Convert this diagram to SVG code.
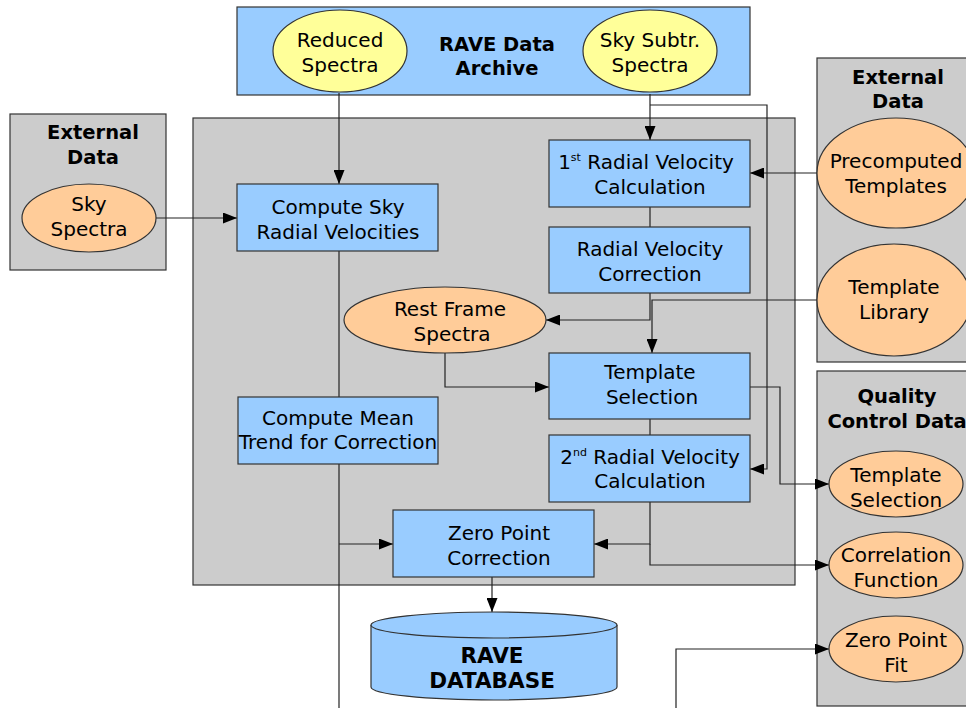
<svg xmlns="http://www.w3.org/2000/svg" width="966" height="708" viewBox="0 0 966 708">
<defs>
<marker id="arr" markerWidth="14" markerHeight="11" refX="14" refY="5.5" orient="auto" markerUnits="userSpaceOnUse">
<path d="M0,0 L14,5.5 L0,11 Z" fill="#000"/>
</marker>
<style>
.grp{fill:#cccccc;stroke:#333;stroke-width:1.2}
.box{fill:#99ccff;stroke:#333;stroke-width:1.2}
.org{fill:#ffcc99;stroke:#333;stroke-width:1.2}
.yel{fill:#ffff99;stroke:#333;stroke-width:1.2}
.t{font-family:"DejaVu Sans","Liberation Sans",sans-serif;font-size:20px;fill:#000;text-anchor:middle}
.b{font-family:"DejaVu Sans","Liberation Sans",sans-serif;font-size:19.5px;font-weight:bold;fill:#000;text-anchor:middle}
.db{font-size:21.5px}
.sup{font-size:11px}
.c{fill:none;stroke:#222;stroke-width:1.2}
.a{marker-end:url(#arr)}
</style>
</defs>
<rect width="966" height="708" fill="#fff"/>

<!-- containers -->
<g id="archive">
<rect class="box" x="237" y="7" width="513" height="88"/>
<text class="b" x="497" y="51">RAVE Data</text>
<text class="b" x="497" y="75">Archive</text>
</g>
<g id="processing">
<rect class="grp" x="193" y="118" width="602" height="467"/>
</g>
<g id="extLeft">
<rect class="grp" x="10" y="114" width="156" height="156"/>
<text class="b" x="93" y="139">External</text>
<text class="b" x="93" y="164">Data</text>
</g>
<g id="extRight">
<rect class="grp" x="817" y="58" width="160" height="304"/>
<text class="b" x="898" y="84">External</text>
<text class="b" x="898" y="108">Data</text>
</g>
<g id="qc">
<rect class="grp" x="817" y="371" width="160" height="335"/>
<text class="b" x="897" y="403">Quality</text>
<text class="b" x="897" y="428">Control Data</text>
</g>

<!-- connectors -->
<g id="connectors">
<path class="c a" d="M339,93 V184"/>
<path class="c a" d="M156,218 H237"/>
<path class="c a" d="M650,94 V140"/>
<path class="c a" d="M650,105 H767 V469 H750"/>
<path class="c a" d="M817,173 H750"/>
<path class="c" d="M650,207 V227"/>
<path class="c a" d="M650,293 V320 H546"/>
<path class="c a" d="M817,300 H652 V353"/>
<path class="c a" d="M445,353 V387 H549"/>
<path class="c" d="M650,419 V435"/>
<path class="c a" d="M750,387 H780 V484 H829"/>
<path class="c a" d="M650,502 V544 H594"/>
<path class="c a" d="M650,544 V565 H829"/>
<path class="c" d="M339,251 V397"/>
<path class="c" d="M339,464 V708"/>
<path class="c a" d="M339,544 H393"/>
<path class="c a" d="M676,708 V649 H829"/>
<path class="c a" d="M492,577 V612"/>
</g>

<!-- nodes -->
<g id="reduced">
<ellipse class="yel" cx="340" cy="51" rx="67" ry="41"/>
<text class="t" x="340" y="47">Reduced</text>
<text class="t" x="340" y="72">Spectra</text>
</g>
<g id="skysubtr">
<ellipse class="yel" cx="650" cy="51" rx="67" ry="41"/>
<text class="t" x="650" y="47">Sky Subtr.</text>
<text class="t" x="650" y="72">Spectra</text>
</g>
<g id="skyspectra">
<ellipse class="org" cx="89" cy="218" rx="67" ry="34"/>
<text class="t" x="89" y="211">Sky</text>
<text class="t" x="89" y="236">Spectra</text>
</g>
<g id="precomputed">
<ellipse class="org" cx="896" cy="173" rx="79" ry="55"/>
<text class="t" x="896" y="168">Precomputed</text>
<text class="t" x="896" y="193">Templates</text>
</g>
<g id="library">
<ellipse class="org" cx="894" cy="300" rx="77" ry="56"/>
<text class="t" x="894" y="294">Template</text>
<text class="t" x="894" y="319">Library</text>
</g>
<g id="computeSky">
<rect class="box" x="237" y="184" width="201" height="67"/>
<text class="t" x="338" y="214">Compute Sky</text>
<text class="t" x="338" y="239">Radial Velocities</text>
</g>
<g id="rv1">
<rect class="box" x="549" y="140" width="201" height="67"/>
<text class="t" x="646" y="169">1<tspan class="sup" dy="-8">st</tspan><tspan dy="8"> Radial Velocity</tspan></text>
<text class="t" x="650" y="194">Calculation</text>
</g>
<g id="rvcorr">
<rect class="box" x="549" y="227" width="201" height="66"/>
<text class="t" x="650" y="256">Radial Velocity</text>
<text class="t" x="650" y="281">Correction</text>
</g>
<g id="restframe">
<ellipse class="org" cx="445" cy="320" rx="101" ry="33"/>
<text class="t" x="450" y="316">Rest Frame</text>
<text class="t" x="452" y="341">Spectra</text>
</g>
<g id="tsel">
<rect class="box" x="549" y="353" width="201" height="66"/>
<text class="t" x="650" y="379">Template</text>
<text class="t" x="652" y="404">Selection</text>
</g>
<g id="rv2">
<rect class="box" x="549" y="435" width="201" height="67"/>
<text class="t" x="650" y="464">2<tspan class="sup" dy="-8">nd</tspan><tspan dy="8"> Radial Velocity</tspan></text>
<text class="t" x="650" y="488">Calculation</text>
</g>
<g id="meantrend">
<rect class="box" x="238" y="397" width="200" height="67"/>
<text class="t" x="338" y="425">Compute Mean</text>
<text class="t" x="338" y="449">Trend for Correction</text>
</g>
<g id="zpc">
<rect class="box" x="393" y="510" width="201" height="67"/>
<text class="t" x="499" y="540">Zero Point</text>
<text class="t" x="499" y="565">Correction</text>
</g>
<g id="database">
<path class="box" d="M371,625 A123,13 0 0 1 617,625 V687 A123,13 0 0 1 371,687 Z"/>
<path class="box" d="M371,625 A123,13 0 0 0 617,625"/>
<text class="b db" x="492" y="663">RAVE</text>
<text class="b db" x="492" y="688">DATABASE</text>
</g>
<g id="qcTsel">
<ellipse class="org" cx="896" cy="484" rx="67" ry="33"/>
<text class="t" x="896" y="482">Template</text>
<text class="t" x="896" y="507">Selection</text>
</g>
<g id="qcCorr">
<ellipse class="org" cx="896" cy="565" rx="67" ry="33"/>
<text class="t" x="896" y="562">Correlation</text>
<text class="t" x="896" y="587">Function</text>
</g>
<g id="qcZero">
<ellipse class="org" cx="896" cy="649" rx="67" ry="33"/>
<text class="t" x="896" y="647">Zero Point</text>
<text class="t" x="896" y="672">Fit</text>
</g>
</svg>
